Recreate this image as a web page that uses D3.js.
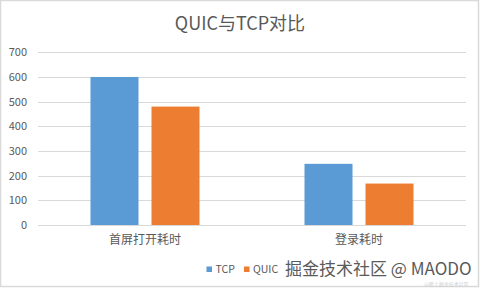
<!DOCTYPE html>
<html>
<head>
<meta charset="utf-8">
<script src="https://cdn.jsdelivr.net/npm/d3@7"></script>
<style>
html,body{margin:0;padding:0;background:#fff;}
svg{display:block;}
</style>
</head>
<body>
<svg id="chart" width="481" height="289"></svg>
<script>
const categories = ["首屏打开耗时", "登录耗时"];
const seriesNames = ["TCP", "QUIC"];
const tcpValues = [600, 248];
const quicValues = [480, 168];
const yTicks = [0, 100, 200, 300, 400, 500, 600, 700];
const colors = ["#5B9BD5", "#ED7D31"];
const titleText = "QUIC与TCP对比";
const watermark = "掘金技术社区 @ MAODO";

const svg = d3.select("#chart");
const W = 481, H = 289;
const font = "'Noto Sans CJK SC', 'Liberation Sans', sans-serif";

svg.append("rect").attr("x", 0.5).attr("y", 0.5).attr("width", W - 3).attr("height", H - 3)
  .attr("fill", "#fff").attr("stroke", "#d9d9d9").attr("stroke-width", 1.5);

const plot = {left: 38, right: 466, top: 52.3, bottom: 225};
const groupW = 109;

const x0 = d3.scaleBand().domain(categories).range([plot.left, plot.right]).paddingInner(0).paddingOuter(0);
const x1 = d3.scaleBand().domain(seriesNames).range([0, groupW]).paddingInner(0.213).paddingOuter(0);
const y = d3.scaleLinear().domain([0, 700]).range([plot.bottom, plot.top]);

// gridlines
svg.append("g").selectAll("line").data(yTicks).join("line")
  .attr("x1", plot.left).attr("x2", plot.right)
  .attr("y1", d => Math.round(y(d)) + 0.5).attr("y2", d => Math.round(y(d)) + 0.5)
  .attr("stroke", "#d9d9d9").attr("stroke-width", 1);

// y axis labels
const yAxis = d3.axisLeft(y).tickValues(yTicks).tickSize(0).tickPadding(0);
const gy = svg.append("g").attr("transform", "translate(27,0)").call(yAxis);
gy.select(".domain").remove();
gy.selectAll("text").attr("font-family", font).attr("font-size", 11).attr("fill", "#595959");

// bars
const data = categories.map((c, i) => ({cat: c, vals: [tcpValues[i], quicValues[i]]}));
const groups = svg.append("g").selectAll("g").data(data).join("g")
  .attr("transform", d => `translate(${x0(d.cat) + (x0.bandwidth() - groupW) / 2},0)`);
groups.selectAll("rect").data(d => d.vals.map((v, j) => ({s: seriesNames[j], v, j}))).join("rect")
  .attr("x", d => x1(d.s)).attr("width", x1.bandwidth())
  .attr("y", d => y(d.v)).attr("height", d => y(0) - y(d.v))
  .attr("fill", d => colors[d.j]);

// x axis labels
const xAxis = d3.axisBottom(x0).tickSize(0).tickPadding(10);
const gx = svg.append("g").attr("transform", `translate(0,${plot.bottom})`).call(xAxis);
gx.select(".domain").remove();
gx.selectAll("text").attr("font-family", font).attr("font-size", 12).attr("fill", "#595959");

// title
svg.append("text").attr("x", 240).attr("y", 30).attr("text-anchor", "middle")
  .attr("font-family", font).attr("font-size", 18).attr("fill", "#595959").text(titleText);

// legend
const legendX = [206.5, 244];
const lg = svg.append("g").selectAll("g").data(seriesNames).join("g")
  .attr("transform", (d, i) => `translate(${legendX[i]},0)`);
lg.append("rect").attr("x", 0).attr("y", 266.5).attr("width", 5.5).attr("height", 5.5)
  .attr("fill", (d, i) => colors[i]);
lg.append("text").attr("x", 9).attr("y", 273).attr("font-family", font).attr("font-size", 10.5)
  .attr("fill", "#595959").text(d => d);

// watermark
svg.append("text").attr("x", 424).attr("y", 286).attr("font-family", font).attr("font-size", 5)
  .attr("fill", "#cfcfcf").text("@稀土掘金技术社区");
svg.append("text").attr("x", 285).attr("y", 275).attr("font-family", font).attr("font-size", 17)
  .attr("fill", "#5a5a5a").attr("stroke", "#fff").attr("stroke-width", 0.5).attr("paint-order", "stroke")
  .text(watermark);
</script>
</body>
</html>
